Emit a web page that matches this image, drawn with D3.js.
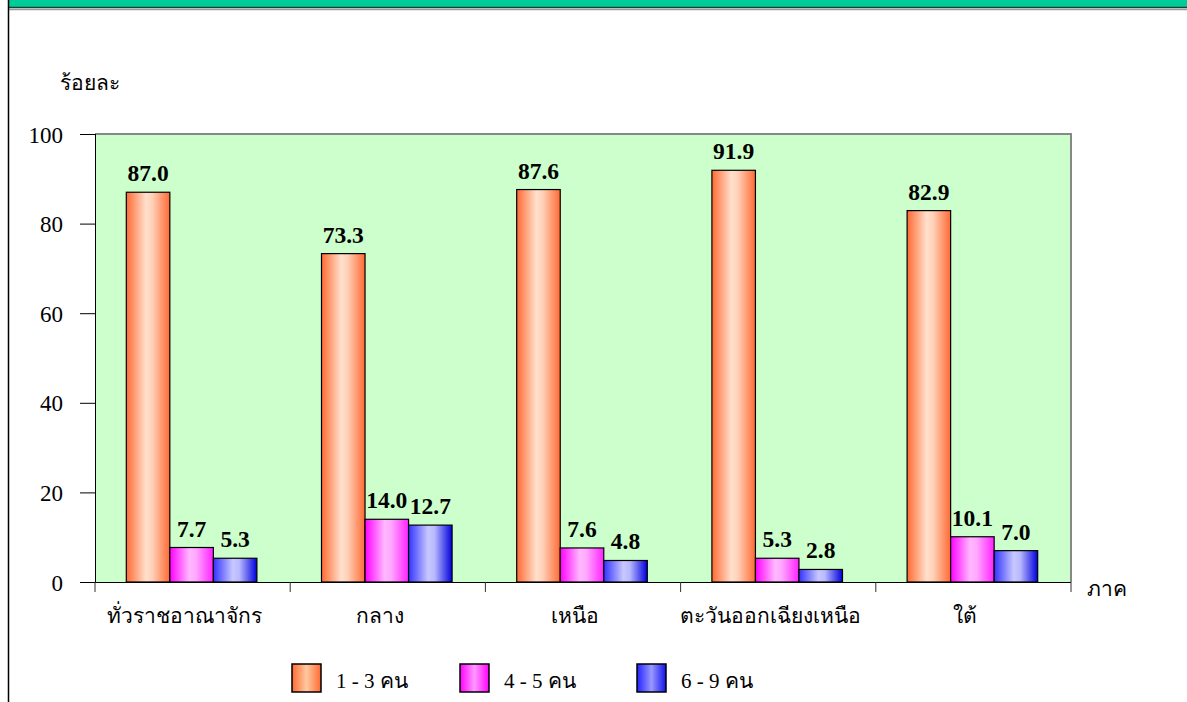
<!DOCTYPE html>
<html><head><meta charset="utf-8">
<script src="https://cdn.jsdelivr.net/npm/d3@7"></script>
<style>
html,body{margin:0;padding:0;background:#fff;}
svg{display:block;}
text{font-family:"Liberation Serif","Times New Roman",serif;}
</style></head>
<body><svg id="c" width="1187" height="702"></svg>
<script>
const categories = ["ทั่วราชอาณาจักร","กลาง","เหนือ","ตะวันออกเฉียงเหนือ","ใต้"];
const seriesNames = ["1 - 3 คน","4 - 5 คน","6 - 9 คน"];
const s1 = [87.0, 73.3, 87.6, 91.9, 82.9];
const s2 = [7.7, 14.0, 7.6, 5.3, 10.1];
const s3 = [5.3, 12.7, 4.8, 2.8, 7.0];
const yTicks = [0,20,40,60,80,100];
const seriesValues = [s1,s2,s3];

const svg = d3.select("#c");
const W = 1187, H = 702;
const L = 95, R = 1071, T = 134, B = 582;

// header band & frame
svg.append("rect").attr("x",9).attr("y",0).attr("width",W-9).attr("height",7).attr("fill","#00CC99");
svg.append("line").attr("x1",9).attr("x2",W).attr("y1",7.5).attr("y2",7.5).attr("stroke","#1f3f35").attr("stroke-width",1.5);
svg.append("line").attr("x1",9).attr("x2",W).attr("y1",9.5).attr("y2",9.5).attr("stroke","#9a9a9a").attr("stroke-width",1.5);
svg.append("line").attr("x1",8.5).attr("x2",8.5).attr("y1",0).attr("y2",H).attr("stroke","#000").attr("stroke-width",1.5);

const defs = svg.append("defs");
const grads = [
  {id:"g0", stops:[[0,"#FF6A33"],[0.45,"#FFE0CC"],[0.6,"#FFD0B8"],[1,"#FF6A33"]]},
  {id:"g1", stops:[[0,"#FF00FF"],[0.45,"#FFB8FF"],[0.6,"#FFA8FF"],[1,"#FF22FF"]]},
  {id:"g2", stops:[[0,"#3333FF"],[0.45,"#C8C8FF"],[0.6,"#B8B8FF"],[1,"#0000DD"]]}
];
grads.forEach(g=>{
  const lg = defs.append("linearGradient").attr("id",g.id).attr("x1","0").attr("x2","1").attr("y1","0").attr("y2","0");
  g.stops.forEach(s=>lg.append("stop").attr("offset",s[0]).attr("stop-color",s[1]));
});
const lgrads = [
  {id:"l0", stops:[[0,"#FF6A33"],[0.5,"#FFC8A0"],[1,"#FF6A33"]]},
  {id:"l1", stops:[[0,"#FF00FF"],[0.5,"#FF99FF"],[1,"#FF00FF"]]},
  {id:"l2", stops:[[0,"#2222FF"],[0.5,"#9999FF"],[1,"#1111EE"]]}
];
lgrads.forEach(g=>{
  const lg = defs.append("linearGradient").attr("id",g.id).attr("x1","0").attr("x2","1").attr("y1","0").attr("y2","0");
  g.stops.forEach(s=>lg.append("stop").attr("offset",s[0]).attr("stop-color",s[1]));
});

const x = d3.scaleBand().domain(categories).range([L,R]).paddingInner(0).paddingOuter(0);
const y = d3.scaleLinear().domain([0,100]).range([B,T]);
const bw = x.bandwidth();
const barW = bw*0.223;
const xs = d3.scaleBand().domain([0,1,2]).range([(bw-3*barW)/2-1,(bw+3*barW)/2-1]).padding(0);

// plot area
svg.append("rect").attr("x",L).attr("y",T).attr("width",R-L).attr("height",B-T).attr("fill","#CCFFCC");
svg.append("path").attr("d",`M${L},${T}H${R}V${B}`).attr("fill","none").attr("stroke","#888").attr("stroke-width",2);

// bars
seriesValues.forEach((vals,si)=>{
  svg.append("g").selectAll("rect").data(vals).join("rect")
    .attr("x",(d,i)=>x(categories[i])+xs(si))
    .attr("y",d=>y(d))
    .attr("width",xs.bandwidth())
    .attr("height",d=>y(0)-y(d))
    .attr("fill",`url(#g${si})`)
    .attr("stroke","#000").attr("stroke-width",1.2);
  svg.append("g").selectAll("text").data(vals).join("text")
    .attr("x",(d,i)=>x(categories[i])+xs(si)+xs.bandwidth()/2)
    .attr("y",d=>y(d)-11)
    .attr("text-anchor","middle")
    .attr("font-size",23.5).attr("font-weight","bold").attr("fill","#000")
    .text(d=>d.toFixed(1));
});

// y axis
const yAxis = d3.axisLeft(y).tickValues(yTicks).tickSize(15).tickPadding(17).tickFormat(d3.format("d"));
const gy = svg.append("g").attr("transform",`translate(${L},0)`).call(yAxis);
gy.selectAll("text").attr("font-size",23).attr("font-family","Liberation Serif").attr("fill","#000").attr("dy","0.35em");
gy.selectAll("line").attr("stroke","#000");
gy.select(".domain").attr("stroke","#000").attr("d",`M0.5,${T}V${B}`);

// x axis: ticks at category boundaries
const gx = svg.append("g");
gx.append("line").attr("x1",L).attr("x2",R).attr("y1",B+0.5).attr("y2",B+0.5).attr("stroke","#000");
const bounds = categories.map(c=>x(c)).concat([R]);
gx.selectAll("line.tk").data(bounds).join("line").attr("class","tk")
  .attr("x1",d=>d).attr("x2",d=>d).attr("y1",B).attr("y2",B+10).attr("stroke","#333");
gx.selectAll("text").data(categories).join("text")
  .attr("x",d=>x(d)+bw/2-8).attr("y",B+41)
  .attr("text-anchor","middle").attr("font-size",21).attr("fill","#000")
  .text(d=>d);

// axis titles
svg.append("text").attr("x",60).attr("y",90).attr("font-size",21).attr("fill","#000").text("ร้อยละ");
svg.append("text").attr("x",1087).attr("y",596).attr("font-size",21).attr("fill","#000").text("ภาค");

// legend
const legX = [292,460,637];
const lg = svg.append("g");
seriesNames.forEach((n,i)=>{
  lg.append("rect").attr("x",legX[i]).attr("y",664).attr("width",29).attr("height",28)
    .attr("fill",`url(#l${i})`).attr("stroke","#000").attr("stroke-width",1.5);
  lg.append("text").attr("x",legX[i]+44).attr("y",688).attr("font-size",21).attr("fill","#000").text(n);
});
</script></body></html>
